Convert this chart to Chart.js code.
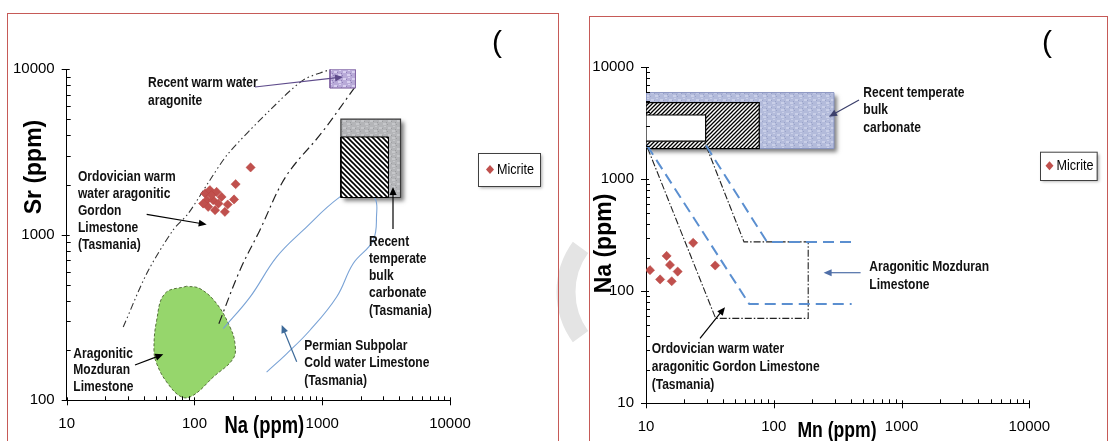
<!DOCTYPE html>
<html><head><meta charset="utf-8">
<script src="https://cdn.jsdelivr.net/npm/chart.js@4.4.1/dist/chart.umd.min.js"></script>
<style>
html,body{margin:0;padding:0;background:#fff;}
#wrap{position:relative;width:1109px;height:441px;overflow:hidden;background:#fff;}
.frame{position:absolute;border:1px solid #c65a57;}
canvas{position:absolute;top:0;}
</style></head><body>
<div id="wrap">
 <canvas id="bg" width="1109" height="441" style="left:0"></canvas>
 <div class="frame" style="left:7px;top:13px;width:550px;height:470px;"></div>
 <div class="frame" style="left:589px;top:16px;width:517px;height:470px;"></div>
 <canvas id="c1" width="560" height="441" style="left:0"></canvas>
 <canvas id="c2" width="549" height="441" style="left:560px"></canvas>
</div>
<script>
// ---------- Left chart data: Na (ppm) vs Sr (ppm) ----------
const naTicks = [10, 100, 1000, 10000];
const srTicks = [100, 1000, 10000];
const naMicrite = [275, 210, 204, 182, 121, 132, 149, 163, 125, 140, 154, 128, 145, 173, 117, 136];
const srMicrite = [2553, 2023, 1635, 1524, 1777, 1862, 1817, 1694, 1618, 1618, 1545, 1475, 1408, 1376, 1545, 1734];
const naWarmBox = [1150, 1820];
const srWarmBox = [7700, 10000];
const naTempBox = [1400, 4100];
const srTempBox = [1680, 5000];
const naTempInner = [1400, 3300];
const srTempInner = [1680, 3900];
const naEnvUpper = [27.7, 42.3, 67.9, 89.4, 132, 184, 390, 710, 1115];
const srEnvUpper = [277, 583, 1066, 1345, 2138, 3100, 5665, 8603, 9890];
const naEnvLower = [1803, 984, 517, 325, 227, 153.5];
const srEnvLower = [7800, 4110, 2239, 1067, 611, 284];
const naPermian = [168, 272, 440, 710, 1376, 1972, 2361, 2631, 2666, 2506, 1748, 1296, 802, 526, 367];
const srPermian = [271, 420, 735, 1067, 1694, 1905, 1817, 1618, 1345, 927, 671, 421, 265, 191, 148];
const naMozduran = [86.9, 58.8, 50.6, 48.2, 50.6, 60.6, 79.4, 97.9, 140, 201, 207.5, 189.6, 149, 110.4, 86.9];
const srMozduran = [489, 442, 304.6, 200.5, 166.7, 129, 104.7, 107.2, 138, 178.7, 220, 277.5, 384, 473, 489];

// ---------- Right chart data: Mn (ppm) vs Na (ppm) ----------
const mnTicks = [10, 100, 1000, 10000];
const naTicks2 = [10, 100, 1000, 10000];
const mnMicrite = [10.75, 12.9, 14.5, 15.4, 15.9, 17.7, 23.4, 34.8];
const naMicrite2 = [154.5, 127.7, 207, 172, 123, 150, 271, 170];
const mnTempBox = [10, 296];
const naTempBox2 = [1880, 5940];
const mnHatchBox = [10, 77];
const naHatchBox = [1880, 4840];
const mnWhiteBox = [10, 29.3];
const naWhiteBox = [2190, 3750];
const mnOrdo = [10.3, 35.1, 186, 186, 58.5, 29];
const naOrdo = [1900, 57.3, 57.3, 276, 276, 2100];
const mnAragLow = [10.2, 64.3, 407];
const naAragLow = [2000, 77, 77];
const mnAragUp = [29.5, 88.5, 407];
const naAragUp = [2000, 276, 276];

// ---------- helpers ----------
const zip = (xs, ys) => xs.map((x, i) => ({x, y: ys[i]}));
const rect = (xr, yr) => zip([xr[0], xr[1], xr[1], xr[0], xr[0]], [yr[0], yr[0], yr[1], yr[1], yr[0]]);

function hasFont(name) {
  const c = document.createElement('canvas').getContext('2d');
  const s = 'Micrite 10000 Wg';
  c.font = '40px monospace'; const a = c.measureText(s).width;
  c.font = '40px "' + name + '", monospace'; const b = c.measureText(s).width;
  return Math.abs(a - b) > 0.5;
}
const NARROW = hasFont('Liberation Sans Narrow');
const tickFont = NARROW ? {family: '"Liberation Sans Narrow", "Liberation Sans", Arial, sans-serif', size: 16}
                        : {family: '"Liberation Sans", Arial, sans-serif', size: 15};
const SANS = '"Liberation Sans", Arial, sans-serif';

// faint watermark fragments behind the charts
(function () {
  const g = document.getElementById('bg').getContext('2d');
  g.strokeStyle = '#e4e4e4'; g.lineWidth = 19;
  g.beginPath(); g.arc(642, 292, 76, Math.PI * 0.8, Math.PI * 1.2); g.stroke();
})();

function hatch(dir, size, bg, fg, lw) {
  const c = document.createElement('canvas'); c.width = c.height = size;
  const g = c.getContext('2d');
  g.fillStyle = bg; g.fillRect(0, 0, size, size);
  g.strokeStyle = fg; g.lineWidth = lw; g.beginPath();
  if (dir > 0) {
    g.moveTo(0, size); g.lineTo(size, 0);
    g.moveTo(-1, 1); g.lineTo(1, -1);
    g.moveTo(size - 1, size + 1); g.lineTo(size + 1, size - 1);
  } else {
    g.moveTo(0, 0); g.lineTo(size, size);
    g.moveTo(-1, size - 1); g.lineTo(1, size + 1);
    g.moveTo(size - 1, -1); g.lineTo(size + 1, 1);
  }
  g.stroke();
  return g.createPattern(c, 'repeat');
}
function texture(base, light, dark) {
  const c = document.createElement('canvas'); c.width = 9; c.height = 7;
  const g = c.getContext('2d');
  g.fillStyle = base; g.fillRect(0, 0, 9, 7);
  g.fillStyle = light;
  g.fillRect(1, 1, 3, 2); g.fillRect(5, 4, 3, 2); g.fillRect(6, 0, 2, 1);
  g.fillStyle = dark;
  g.fillRect(4, 2, 1, 1); g.fillRect(0, 5, 1, 1); g.fillRect(8, 3, 1, 1);
  return g.createPattern(c, 'repeat');
}

function logScale(min, max, ticks, pad, fitKey, fitVal) {
  return {
    type: 'logarithmic', min, max,
    afterBuildTicks: s => { s.ticks = ticks.map(v => ({value: v})); },
    afterFit: s => { s[fitKey] = fitVal; },
    ticks: {callback: v => String(v), color: '#000', font: tickFont, padding: pad, autoSkip: false, maxRotation: 0, minRotation: 0},
    grid: {display: true, drawOnChartArea: false, drawTicks: false, color: 'rgba(0,0,0,0)'},
    border: {display: true, color: '#000', width: 1}
  };
}

const axisTicks = {
  id: 'axisTicks',
  afterDraw(chart) {
    const {ctx, chartArea: ca, scales: {x, y}} = chart;
    ctx.save(); ctx.strokeStyle = '#000'; ctx.lineWidth = 1; ctx.beginPath();
    for (let d = x.min; d <= x.max * 1.0001; d *= 10) {
      for (let m = 1; m <= 9; m++) {
        const v = d * m; if (v > x.max * 1.0001) break;
        const p = Math.round(x.getPixelForValue(v)) + 0.5;
        if (m === 1) { ctx.moveTo(p, ca.bottom - 3); ctx.lineTo(p, ca.bottom + 5); }
        else { ctx.moveTo(p, ca.bottom - 4); ctx.lineTo(p, ca.bottom); }
      }
    }
    for (let d = y.min; d <= y.max * 1.0001; d *= 10) {
      for (let m = 1; m <= 9; m++) {
        const v = d * m; if (v > y.max * 1.0001) break;
        const p = Math.round(y.getPixelForValue(v)) + 0.5;
        if (m === 1) { ctx.moveTo(ca.left - 5, p); ctx.lineTo(ca.left + 3, p); }
        else { ctx.moveTo(ca.left, p); ctx.lineTo(ca.left + 4, p); }
      }
    }
    ctx.stroke(); ctx.restore();
  }
};

function sText(ctx, s, x, y, font, sx) {
  ctx.save(); ctx.font = font; ctx.translate(x, y); ctx.scale(sx, 1);
  ctx.fillText(s, 0, 0); ctx.restore();
}
function arrow(ctx, a) {
  ctx.save(); ctx.strokeStyle = a.c; ctx.fillStyle = a.c; ctx.lineWidth = 1.2;
  const ang = Math.atan2(a.y2 - a.y1, a.x2 - a.x1), L = 8, W = 3.5;
  ctx.beginPath(); ctx.moveTo(a.x1, a.y1);
  ctx.lineTo(a.x2 - (L - 2) * Math.cos(ang), a.y2 - (L - 2) * Math.sin(ang)); ctx.stroke();
  ctx.beginPath(); ctx.moveTo(a.x2, a.y2);
  ctx.lineTo(a.x2 - L * Math.cos(ang) + W * Math.sin(ang), a.y2 - L * Math.sin(ang) - W * Math.cos(ang));
  ctx.lineTo(a.x2 - L * Math.cos(ang) - W * Math.sin(ang), a.y2 - L * Math.sin(ang) + W * Math.cos(ang));
  ctx.closePath(); ctx.fill(); ctx.restore();
}

function decor(cfg) {
  return {
    id: 'decor',
    beforeDatasetsDraw(chart) {
      const {ctx, scales: {x, y}} = chart;
      ctx.save();
      ctx.beginPath(); ctx.rect(chart.chartArea.left, chart.chartArea.top - 10, chart.chartArea.width + 20, chart.chartArea.height + 10); ctx.clip();
      cfg.shadows.forEach(b => {
        const l = x.getPixelForValue(b.xs[0]), r = x.getPixelForValue(b.xs[1]);
        const t = y.getPixelForValue(b.ys[1]), bo = y.getPixelForValue(b.ys[0]);
        ctx.save();
        ctx.shadowColor = 'rgba(0,0,0,0.5)'; ctx.shadowBlur = 4; ctx.shadowOffsetX = 3; ctx.shadowOffsetY = 3;
        ctx.fillStyle = '#888'; ctx.fillRect(l, t, r - l, bo - t);
        ctx.restore();
      });
      ctx.restore();
    },
    afterDraw(chart) {
      const ctx = chart.ctx;
      ctx.save();
      ctx.fillStyle = '#111'; ctx.textBaseline = 'middle'; ctx.textAlign = 'left';
      cfg.texts.forEach(tb => tb.t.forEach((s, i) => sText(ctx, s, tb.x, tb.y + i * tb.lh, 'bold 14px ' + SANS, 0.86)));
      cfg.arrows.forEach(a => arrow(ctx, a));
      // axis titles
      ctx.fillStyle = '#000'; ctx.textAlign = 'center';
      sText(ctx, cfg.xTitle.s, cfg.xTitle.x, cfg.xTitle.y, 'bold ' + cfg.xTitle.size + 'px ' + SANS, 0.8);
      ctx.save(); ctx.translate(cfg.yTitle.x, cfg.yTitle.y); ctx.rotate(-Math.PI / 2);
      ctx.font = 'bold ' + cfg.yTitle.size + 'px ' + SANS; ctx.fillText(cfg.yTitle.s, 0, 0); ctx.restore();
      // paren
      ctx.textAlign = 'left'; ctx.textBaseline = 'alphabetic';
      ctx.font = '30px ' + SANS; ctx.fillText('(', cfg.paren.x, cfg.paren.y);
      // legend
      const L = cfg.legend;
      ctx.save();
      ctx.shadowColor = 'rgba(0,0,0,0.35)'; ctx.shadowBlur = 3; ctx.shadowOffsetX = 2; ctx.shadowOffsetY = 2;
      ctx.fillStyle = '#fff'; ctx.fillRect(L.x, L.y, L.w, L.h);
      ctx.restore();
      ctx.strokeStyle = '#404040'; ctx.lineWidth = 1; ctx.strokeRect(L.x + 0.5, L.y + 0.5, L.w, L.h);
      const cy = L.y + L.h / 2, dx = L.x + L.dx;
      ctx.fillStyle = '#c0504d'; ctx.beginPath();
      ctx.moveTo(dx, cy - 4.5); ctx.lineTo(dx + 4, cy); ctx.lineTo(dx, cy + 4.5); ctx.lineTo(dx - 4, cy); ctx.closePath(); ctx.fill();
      ctx.fillStyle = '#000'; ctx.textBaseline = 'middle';
      sText(ctx, 'Micrite', dx + 7, cy + 0.5, '14px ' + SANS, 0.9);
      ctx.restore();
    }
  };
}

const micriteStyle = {pointStyle: 'rectRot', pointRadius: 4.6, pointHoverRadius: 4.6, backgroundColor: '#c0504d', borderColor: '#b8433f', borderWidth: 0.5};
const shape = (data, extra) => Object.assign({data, showLine: true, pointRadius: 0, pointHoverRadius: 0, tension: 0}, extra);

// ---------- Left chart ----------
new Chart(document.getElementById('c1'), {
  type: 'scatter',
  data: {datasets: [
    Object.assign({label: 'Micrite', data: zip(naMicrite, srMicrite), order: 0}, micriteStyle),
    shape(rect(naWarmBox, srWarmBox), {label: 'Recent warm water aragonite', fill: 'shape', backgroundColor: texture('#b8aad8', '#d8cff0', '#8f7fb8'), borderColor: '#8064a2', borderWidth: 1, order: 3}),
    shape(rect(naTempInner, srTempInner), {label: 'Recent temperate bulk carbonate (inner)', fill: 'shape', backgroundColor: hatch(-1, 5, '#ffffff', '#000000', 1.6), borderColor: '#000', borderWidth: 1, order: 4}),
    shape(rect(naTempBox, srTempBox), {label: 'Recent temperate bulk carbonate', fill: 'shape', backgroundColor: texture('#b4b5b8', '#c6c7ca', '#9c9da0'), borderColor: '#3a3a3a', borderWidth: 1.2, order: 5}),
    shape(zip(naEnvUpper, srEnvUpper), {label: 'Ordovician envelope upper', borderColor: '#333', borderWidth: 1.1, borderDash: [7, 3, 1.5, 3, 1.5, 3], tension: 0.3, fill: false, order: 6}),
    shape(zip(naEnvLower, srEnvLower), {label: 'Ordovician envelope lower', borderColor: '#222', borderWidth: 1.2, borderDash: [9, 4, 2, 4], tension: 0.35, fill: false, order: 6}),
    shape(zip(naPermian, srPermian), {label: 'Permian Subpolar', borderColor: '#7aa3d6', borderWidth: 1.1, tension: 0.4, fill: false, order: 7}),
    shape(zip(naMozduran, srMozduran), {label: 'Aragonitic Mozduran', fill: 'shape', backgroundColor: '#96d66c', borderColor: '#55703a', borderWidth: 1, borderDash: [3, 2], tension: 0.4, order: 8})
  ]},
  options: {
    responsive: false, animation: false, devicePixelRatio: 1,
    layout: {padding: {left: 0, right: 110, top: 69.3, bottom: 0}},
    plugins: {legend: {display: false}, tooltip: {enabled: false}},
    scales: {
      x: logScale(10, 10000, naTicks, 15, 'height', 40.7),
      y: logScale(100, 10000, srTicks, 12, 'width', 66.7)
    }
  },
  plugins: [axisTicks, decor({
    shadows: [{xs: naTempBox, ys: srTempBox}],
    texts: [
      {t: ['Recent warm water', 'aragonite'], x: 148, y: 83.3, lh: 17.7},
      {t: ['Ordovician warm', 'water aragonitic', 'Gordon', 'Limestone', '(Tasmania)'], x: 78, y: 176.7, lh: 17.1},
      {t: ['Aragonitic', 'Mozduran', 'Limestone'], x: 73.3, y: 354, lh: 16.4},
      {t: ['Recent', 'temperate', 'bulk', 'carbonate', '(Tasmania)'], x: 369, y: 241.7, lh: 17.3},
      {t: ['Permian Subpolar', 'Cold water Limestone', '(Tasmania)'], x: 304.3, y: 346, lh: 17.4}
    ],
    arrows: [
      {x1: 255, y1: 87, x2: 343, y2: 77, c: '#5e4b8b'},
      {x1: 146.7, y1: 214.3, x2: 206.7, y2: 224.5, c: '#000'},
      {x1: 135, y1: 365, x2: 163.3, y2: 354.3, c: '#000'},
      {x1: 393, y1: 229, x2: 393, y2: 187, c: '#000'},
      {x1: 296.7, y1: 361.7, x2: 281.7, y2: 325, c: '#3d6a99'}
    ],
    xTitle: {s: 'Na (ppm)', x: 264.3, y: 427, size: 23},
    yTitle: {s: 'Sr (ppm)', x: 35, y: 167, size: 23},
    paren: {x: 492, y: 52},
    legend: {x: 478, y: 153, w: 62, h: 33, dx: 12}
  })]
});

// ---------- Right chart ----------
new Chart(document.getElementById('c2'), {
  type: 'scatter',
  data: {datasets: [
    Object.assign({label: 'Micrite', data: zip(mnMicrite, naMicrite2), order: 0}, micriteStyle),
    shape(zip(mnOrdo, naOrdo), {label: 'Ordovician warm water aragonitic Gordon Limestone', borderColor: '#222', borderWidth: 1.1, borderDash: [7, 2, 1.5, 2], fill: false, order: 5}),
    shape(zip(mnAragLow, naAragLow), {label: 'Aragonitic Mozduran lower', borderColor: '#5b8fd0', borderWidth: 2, borderDash: [11, 6], fill: false, order: 4}),
    shape(zip(mnAragUp, naAragUp), {label: 'Aragonitic Mozduran upper', borderColor: '#5b8fd0', borderWidth: 2, borderDash: [11, 6], fill: false, order: 4}),
    shape(rect(mnWhiteBox, naWhiteBox), {label: 'white', fill: 'shape', backgroundColor: '#ffffff', borderColor: '#000', borderWidth: 1.2, order: 8}),
    shape(rect(mnHatchBox, naHatchBox), {label: 'hatched', fill: 'shape', backgroundColor: hatch(1, 4, '#ffffff', '#000000', 1.3), borderColor: '#000', borderWidth: 1.2, order: 9}),
    shape(rect(mnTempBox, naTempBox2), {label: 'Recent temperate bulk carbonate', fill: 'shape', backgroundColor: texture('#b3bbdb', '#c9cfe8', '#9aa3c9'), borderColor: '#8793c2', borderWidth: 1, order: 10})
  ]},
  options: {
    responsive: false, animation: false, devicePixelRatio: 1,
    layout: {padding: {left: 0, right: 79.7, top: 67.3, bottom: 0}},
    plugins: {legend: {display: false}, tooltip: {enabled: false}},
    scales: {
      x: logScale(10, 10000, mnTicks, 15, 'height', 37.7),
      y: logScale(10, 10000, naTicks2, 12, 'width', 86)
    }
  },
  plugins: [axisTicks, decor({
    shadows: [{xs: mnTempBox, ys: naTempBox2}],
    texts: [
      {t: ['Recent temperate', 'bulk', 'carbonate'], x: 303.3, y: 92.7, lh: 17.5},
      {t: ['Aragonitic Mozduran', 'Limestone'], x: 309.3, y: 266.7, lh: 18.3},
      {t: ['Ordovician warm water', 'aragonitic Gordon Limestone', '(Tasmania)'], x: 91.7, y: 349, lh: 18}
    ],
    arrows: [
      {x1: 299, y1: 100, x2: 269, y2: 116.7, c: '#3b3f6b'},
      {x1: 300.6, y1: 272.7, x2: 263.6, y2: 272.7, c: '#4f6fa8'},
      {x1: 140, y1: 338.3, x2: 165, y2: 307.3, c: '#000'}
    ],
    xTitle: {s: 'Mn (ppm)', x: 277, y: 431, size: 22},
    yTitle: {s: 'Na (ppm)', x: 45, y: 243.5, size: 23},
    paren: {x: 482, y: 52},
    legend: {x: 480, y: 151.7, w: 56.7, h: 28.3, dx: 9.5}
  })]
});
</script>
</body></html>
